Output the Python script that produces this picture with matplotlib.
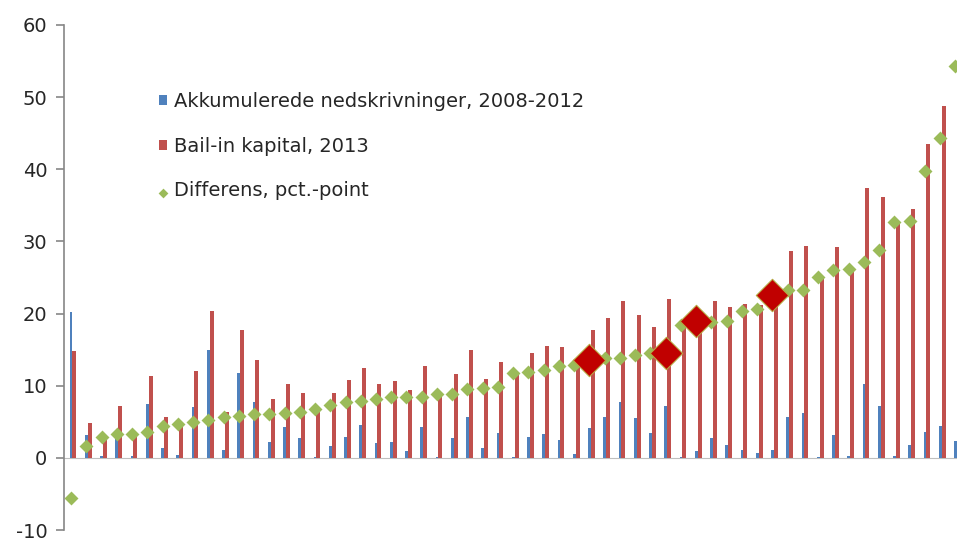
import numpy as np
import matplotlib
matplotlib.use("Agg")
import matplotlib.pyplot as plt

# Data (pct.), banks sorted by difference
nedskrivninger = [20.2, 3.2, 0.3, 3.9, 0.2, 7.5, 1.4, 0.4, 7.0, 15.0,
                  1.1, 11.8, 7.8, 2.2, 4.3, 2.8, 0.1, 1.7, 2.9, 4.6,
                  2.0, 2.2, 0.9, 4.3, 0.1, 2.8, 5.7, 1.3, 3.5, 0.1,
                  2.9, 3.3, 2.5, 0.5, 4.1, 5.7, 7.8, 5.5, 3.5, 7.2,
                  0.1, 0.9, 2.8, 1.8, 1.1, 0.7, 1.1, 5.7, 6.2, 0.1,
                  3.1, 0.2, 10.3, 7.2, 0.2, 1.8, 3.6, 4.4, 2.3]
bail_in = [14.8, 4.8, 3.2, 7.2, 3.5, 11.3, 5.7, 5.0, 12.0, 20.3,
           6.4, 17.7, 13.6, 8.1, 10.3, 9.0, 6.9, 9.0, 10.8, 12.4,
           10.2, 10.6, 9.4, 12.7, 8.9, 11.6, 15.0, 10.9, 13.3, 11.8,
           14.5, 15.5, 15.3, 13.4, 17.7, 19.4, 21.7, 19.8, 18.1, 22.0,
           18.5, 19.9, 21.8, 20.9, 21.3, 21.2, 23.7, 28.7, 29.4, 25.2,
           29.2, 26.4, 37.4, 36.1, 32.9, 34.5, 43.5, 48.8, 56.6]
differens = [-5.6, 1.6, 2.9, 3.3, 3.3, 3.6, 4.4, 4.7, 5.0, 5.3,
             5.6, 5.8, 6.1, 6.1, 6.2, 6.4, 6.8, 7.3, 7.7, 7.9,
             8.2, 8.4, 8.5, 8.5, 8.8, 8.8, 9.6, 9.7, 9.8, 11.7,
             11.9, 12.2, 12.8, 12.9, 13.6, 13.9, 13.8, 14.2, 14.6, 14.6,
             18.4, 19.0, 18.9, 19.0, 20.4, 20.6, 22.6, 23.3, 23.2, 25.1,
             26.0, 26.2, 27.2, 28.8, 32.7, 32.9, 39.8, 44.4, 54.3]
# highlighted banks (large red diamonds)
fremhaevet = [34, 39, 41, 46]

labels = ["Akkumulerede nedskrivninger, 2008-2012",
          "Bail-in kapital, 2013",
          "Differens, pct.-point"]

blue = "#4F81BD"
red = "#C0504D"
green = "#9BBB59"

plt.rcParams['font.family'] = ['DejaVu Sans']
plt.rcParams['axes.unicode_minus'] = False

fig = plt.figure(figsize=(9.57, 5.38), dpi=100)
ax = fig.add_axes([64 / 957, 8 / 538, 1 - 64 / 957, (530 - 25) / 538])

x = np.arange(len(differens))
wb, wr = 0.19, 0.26
b1 = ax.bar(x, nedskrivninger, wb, color=blue, zorder=2, label=labels[0])
b2 = ax.bar(x + wb / 2 + wr / 2, bail_in, wr, color=red, zorder=2, label=labels[1])
sc = ax.scatter(x, differens, marker="D", s=7.1 ** 2, color=green, zorder=3,
                linewidths=0, label=labels[2])
hx = np.array(fremhaevet)
ax.scatter(hx, np.array(differens)[hx], marker="D", s=16.5 ** 2, color="#C00000",
           edgecolors="#B5A642", linewidths=0.8, zorder=4)

ax.axhline(0, color="#BFBFBF", lw=0.8, zorder=1)

ax.set_xlim(-0.46, 58.1)
ax.set_ylim(-10, 60)
ax.set_yticks(range(-10, 61, 10))
ax.set_xticks([])
for s in ["top", "right", "bottom"]:
    ax.spines[s].set_visible(False)
ax.spines["left"].set_color("#868686")
ax.spines["left"].set_linewidth(1.2)
ax.tick_params(axis="y", direction="out", length=6, width=1.2, color="#868686",
               labelsize=14, labelcolor="#262626", pad=6)

leg = fig.legend(handles=[b1, b2, sc], labels=labels, loc="upper left",
                 bbox_to_anchor=(149 / 957, 1 - 82 / 538), frameon=False,
                 fontsize=14, borderpad=0, handlelength=0.42, handleheight=0.42,
                 handletextpad=0.36, labelspacing=1.33, markerscale=0.7,
                 scatterpoints=1, labelcolor="#262626")

fig.savefig("out.png", dpi=100)
